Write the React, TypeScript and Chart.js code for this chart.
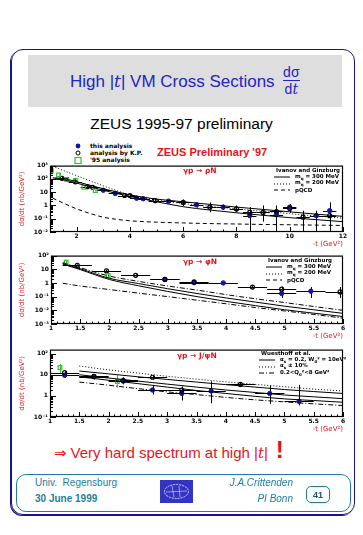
import React, { useEffect, useRef } from 'react';
import { Chart, registerables } from 'chart.js';
Chart.register(...registerables);

// ---------------- γp → ρN ----------------
const rhoXTicks = [2, 4, 6, 8, 10, 12];
const rhoXLabels = ['2', '4', '6', '8', '10', '12'];
const rhoYTicks = [0.01, 0.1, 1, 10, 100, 1000];
const rhoYLabels = ['10⁻²', '10⁻¹', '1', '10', '10²', '10³'];

const rho95T = [1.05, 1.32, 1.63, 1.95, 2.27, 2.7];
const rho95V = [420, 200, 90, 75, 23, 13];
const rho95Lo = [380, 180, 80, 66, 20, 11];
const rho95Hi = [470, 225, 100, 85, 26, 15];

const rhoKPT = [1.45, 1.95, 2.4, 2.6, 3.8, 4.0, 4.95, 6.0, 7.0, 8.0, 8.5, 9.0, 9.5, 10.0, 10.5, 11.5];
const rhoKPV = [110, 60, 26, 23, 5.6, 5.6, 2.3, 1.7, 0.74, 0.55, 0.3, 0.3, 0.35, 0.6, 0.13, 0.17];
const rhoKPLo = [85, 48, 21, 18, 4.5, 4.5, 1.8, 0.9, 0.3, 0.3, 0.01, 0.06, 0.01, 0.28, 0.01, 0.01];
const rhoKPHi = [140, 75, 32, 28, 7, 7, 3, 2.8, 1.7, 1.0, 0.75, 1.0, 1.0, 1.2, 0.4, 0.5];

const rhoThisT = [3.0, 3.45, 4.25, 4.5, 5.45, 6.5, 7.5, 8.5, 9.5, 10.0, 11.0, 11.5];
const rhoThisV = [14, 8, 3.5, 3.2, 2.1, 1.1, 0.74, 0.17, 0.2, 0.74, 0.17, 0.4];
const rhoThisLo = [11, 6.5, 2.7, 2.5, 1.6, 0.7, 0.45, 0.01, 0.01, 0.35, 0.01, 0.06];
const rhoThisHi = [17, 10, 4.5, 4, 2.7, 1.6, 1.2, 0.5, 0.6, 1.3, 0.4, 1.7];

const rhoCurveT = [1.1, 1.5, 2, 2.5, 3, 3.5, 4, 5, 6, 7, 8, 9, 10, 11, 12];
const rhoSolidA = [120, 105, 62, 33, 18, 10.5, 6.2, 3.0, 1.9, 1.2, 0.75, 0.5, 0.33, 0.22, 0.15];
const rhoSolidB = [95, 85, 48, 26, 14, 8, 4.8, 1.9, 0.8, 0.45, 0.28, 0.18, 0.12, 0.085, 0.06];
const rhoDotted = [900, 430, 175, 72, 30, 13, 6.2, 2.5, 1.4, 0.85, 0.55, 0.36, 0.24, 0.16, 0.11];
const rhoDashed = [3.6, 1.5, 0.55, 0.25, 0.13, 0.09, 0.07, 0.055, 0.048, 0.043, 0.04, 0.037, 0.035, 0.033, 0.031];

// ---------------- γp → φN ----------------
const phiXTicks = [1, 1.5, 2, 2.5, 3, 3.5, 4, 4.5, 5, 5.5, 6];
const phiXLabels = ['1', '1.5', '2', '2.5', '3', '3.5', '4', '4.5', '5', '5.5', '6'];
const phiYTicks = [0.001, 0.01, 0.1, 1, 10, 100];
const phiYLabels = ['10⁻³', '10⁻²', '10⁻¹', '1', '10', '10²'];

const phi95T = [1.26, 1.98];
const phi95V = [33, 3.5];
const phi95Lo = [27, 2.8];
const phi95Hi = [40, 4.4];

const phiKPT = [1.45, 1.95, 2.45, 2.95, 3.45, 4.45, 4.95, 5.95];
const phiKPV = [19, 7.6, 3.6, 1.8, 1.2, 0.5, 0.35, 0.22];
const phiKPLo = [16, 6.5, 3.1, 1.5, 0.8, 0.4, 0.2, 0.08];
const phiKPHi = [23, 9, 4.2, 2.2, 1.6, 0.62, 0.55, 0.5];

const phiThisT = [2.95, 3.45, 3.95, 4.95, 5.45];
const phiThisV = [1.8, 1.07, 1.0, 0.17, 0.25];
const phiThisLo = [1.5, 0.7, 0.8, 0.08, 0.08];
const phiThisHi = [2.2, 1.4, 1.3, 0.4, 0.5];

const phiCurveT = [1.2, 1.5, 2, 2.5, 3, 3.5, 4, 4.5, 5, 5.5, 6];
const phiDotted = [30, 13, 3.2, 1.3, 0.6, 0.3, 0.14, 0.07, 0.037, 0.019, 0.01];
const phiSolidA = [26, 11, 2.2, 0.9, 0.38, 0.17, 0.08, 0.04, 0.02, 0.011, 0.006];
const phiSolidB = [24, 9.5, 1.8, 0.62, 0.24, 0.1, 0.045, 0.022, 0.011, 0.0062, 0.0035];
const phiDashed = [0.95, 0.6, 0.33, 0.18, 0.1, 0.055, 0.03, 0.016, 0.009, 0.005, 0.0027];

// ---------------- γp → J/ψN ----------------
const jpsiXTicks = phiXTicks;
const jpsiXLabels = phiXLabels;
const jpsiYTicks = [0.1, 1, 10, 100];
const jpsiYLabels = ['10⁻¹', '1', '10', '10²'];

const jpsi95T = [1.17, 2.15];
const jpsi95V = [22, 4.8];
const jpsi95Lo = [12, 2.4];
const jpsi95Hi = [33, 10];

const jpsiThisT = [1.25, 1.75, 2.25, 2.75, 3.25, 3.75, 4.75, 5.25];
const jpsiThisV = [9.5, 8, 5, 1.9, 1.3, 1.7, 1.3, 0.55];
const jpsiThisLo = [7, 6, 3.5, 1.15, 0.6, 0.45, 0.42, 0.35];
const jpsiThisHi = [12, 10.5, 7, 3.3, 2.4, 4.9, 3.1, 3.3];

const jpsiKPT = [1.25, 1.75, 2.25, 2.75, 3.25, 4.25];
const jpsiKPV = [12.5, 8.5, 5.5, 7.6, 1.9, 3.5];
const jpsiKPLo = [10, 6.5, 3.8, 6, 1.2, 2.6];
const jpsiKPHi = [15, 10.5, 7.5, 9.5, 2.8, 4.5];

const jpsiCurveT = [1.5, 2, 2.5, 3, 3.5, 4, 4.5, 5, 5.5, 6];
const jpsiDotted = [26, 17, 12, 8.5, 6.2, 4.6, 3.5, 2.7, 2.1, 1.7];
const jpsiSolidA = [15, 11, 8, 6, 4.5, 3.4, 2.6, 2.0, 1.6, 1.3];
const jpsiSolidB = [10, 7, 5, 3.6, 2.6, 1.9, 1.45, 1.1, 0.9, 0.74];
const jpsiSolidC = [8, 5.5, 3.8, 2.6, 1.8, 1.3, 0.95, 0.72, 0.6, 0.5];
const jpsiDashDot = [4.5, 3.2, 2.2, 1.55, 1.15, 0.85, 0.65, 0.52, 0.42, 0.35];

// ---------------- styling ----------------
const RED = '#e3151b';
const BLUE_PT = '#1414a8';
const GREEN = '#2fc42f';
const NAVY = '#15158c';
const TEAL = '#1f7e9e';
const TITLE_BLUE = '#2424c8';

const DASH_SOLID: number[] = [];
const DASH_DOT: number[] = [1, 2];
const DASH_DASH: number[] = [4, 3];
const DASH_DASHDOT: number[] = [5, 2, 1, 2];

function curve(t: number[], v: number[], dash: number[]) {
  return {
    data: t.map((x, i) => ({ x, y: v[i] })),
    showLine: true,
    borderColor: '#000',
    borderWidth: 1,
    borderDash: dash,
    pointRadius: 0,
    cubicInterpolationMode: 'monotone',
    fill: false,
  };
}

function points(t: number[], v: number[], lo: number[], hi: number[], dx: number, kind: 'this' | 'kp' | 'old') {
  const style: any =
    kind === 'this'
      ? { pointStyle: 'circle', pointRadius: 2.2, backgroundColor: BLUE_PT, borderColor: BLUE_PT, borderWidth: 1 }
      : kind === 'kp'
      ? { pointStyle: 'circle', pointRadius: 2, backgroundColor: 'rgba(255,255,255,0)', borderColor: '#000', borderWidth: 1.2 }
      : { pointStyle: 'rect', pointRadius: 2.6, backgroundColor: 'rgba(255,255,255,0)', borderColor: GREEN, borderWidth: 1.2 };
  return {
    data: t.map((x, i) => ({ x, y: v[i] })),
    showLine: false,
    errorBars: { lo, hi, dx },
    ...style,
  };
}

const errorBarPlugin = {
  id: 'errorBars',
  beforeDatasetsDraw(chart: any) {
    const { ctx, chartArea: a } = chart;
    const xs = chart.scales.x;
    const ys = chart.scales.y;
    ctx.save();
    ctx.beginPath();
    ctx.rect(a.left, a.top, a.right - a.left, a.bottom - a.top);
    ctx.clip();
    ctx.lineWidth = 1;
    chart.data.datasets.forEach((ds: any) => {
      const eb = ds.errorBars;
      if (!eb) return;
      ctx.strokeStyle = ds.borderColor === GREEN ? GREEN : '#000';
      ds.data.forEach((p: any, i: number) => {
        const px = Math.round(xs.getPixelForValue(p.x)) + 0.5;
        const py = Math.round(ys.getPixelForValue(p.y)) + 0.5;
        ctx.beginPath();
        if (eb.dx) {
          ctx.moveTo(xs.getPixelForValue(p.x - eb.dx), py);
          ctx.lineTo(xs.getPixelForValue(p.x + eb.dx), py);
        }
        ctx.moveTo(px, ys.getPixelForValue(Math.max(eb.lo[i], ys.min)));
        ctx.lineTo(px, ys.getPixelForValue(Math.min(eb.hi[i], ys.max)));
        ctx.stroke();
      });
    });
    ctx.restore();
  },
};

const framePlugin = {
  id: 'frame',
  afterDraw(chart: any, _args: any, opts: any) {
    const { ctx, chartArea: a } = chart;
    const xs = chart.scales.x;
    const ys = chart.scales.y;
    ctx.save();
    ctx.strokeStyle = '#000';
    ctx.lineWidth = 1.2;
    ctx.strokeRect(a.left + 0.5, a.top + 0.5, a.right - a.left - 1, a.bottom - a.top - 1);
    ctx.lineWidth = 1;
    ctx.beginPath();
    const step = opts.xMinorStep || 0.1;
    const n = Math.round((xs.max - xs.min) / step);
    for (let k = 0; k <= n; k++) {
      const v = xs.min + k * step;
      const major = (opts.xMajor || []).some((m: number) => Math.abs(m - v) < 1e-6);
      const px = Math.round(xs.getPixelForValue(v)) + 0.5;
      ctx.moveTo(px, a.bottom);
      ctx.lineTo(px, a.bottom - (major ? 5 : 2.5));
    }
    const d0 = Math.floor(Math.log10(ys.min));
    const d1 = Math.ceil(Math.log10(ys.max));
    for (let d = d0; d <= d1; d++) {
      for (let m = 1; m <= 9; m++) {
        const v = m * Math.pow(10, d);
        if (v < ys.min * 0.999 || v > ys.max * 1.001) continue;
        const py = Math.round(ys.getPixelForValue(v)) + 0.5;
        ctx.moveTo(a.left, py);
        ctx.lineTo(a.left + (m === 1 ? 6 : 3), py);
      }
    }
    ctx.stroke();
    ctx.restore();
  },
};

interface Spec {
  xMin: number; xMax: number; yMin: number; yMax: number;
  xTicks: number[]; xLabels: string[]; xMinorStep: number;
  yTicks: number[]; yLabels: string[];
  yWidth: number;
  datasets: any[];
}

function makeConfig(spec: Spec): any {
  return {
    type: 'scatter',
    data: { datasets: spec.datasets },
    options: {
      responsive: false,
      animation: false,
      devicePixelRatio: 1,
      layout: { padding: { top: 5, right: 8, left: 0, bottom: 0 } },
      plugins: {
        legend: { display: false },
        tooltip: { enabled: false },
        frame: { xMinorStep: spec.xMinorStep, xMajor: spec.xTicks },
      },
      scales: {
        x: {
          type: 'linear',
          min: spec.xMin,
          max: spec.xMax,
          afterBuildTicks: (s: any) => { s.ticks = spec.xTicks.map((v) => ({ value: v })); },
          afterFit: (s: any) => { s.height = 16; },
          ticks: {
            autoSkip: false, maxRotation: 0, minRotation: 0, padding: 1, color: '#000',
            font: { size: 6, weight: 'bold', family: '"DejaVu Sans", sans-serif' },
            callback: (_v: any, i: number) => spec.xLabels[i],
          },
          grid: { display: false, drawTicks: false },
          border: { display: false },
          title: { display: true, text: '-t (GeV²)', align: 'end', color: RED, padding: 0, font: { size: 7, family: '"DejaVu Sans", sans-serif' } },
        },
        y: {
          type: 'logarithmic',
          min: spec.yMin,
          max: spec.yMax,
          afterBuildTicks: (s: any) => { s.ticks = spec.yTicks.map((v) => ({ value: v, major: true })); },
          afterFit: (s: any) => { s.width = spec.yWidth; },
          ticks: {
            autoSkip: false, padding: 2, color: '#000',
            font: { size: 6, weight: 'bold', family: '"DejaVu Sans", sans-serif' },
            callback: (_v: any, i: number) => spec.yLabels[i],
          },
          grid: { display: false, drawTicks: false },
          border: { display: false },
          title: { display: true, text: 'dσ/dt (nb/GeV²)', color: RED, padding: { top: 4, bottom: 0 }, font: { size: 7, family: '"DejaVu Sans", sans-serif' } },
        },
      },
    },
    plugins: [errorBarPlugin, framePlugin],
  };
}

const rhoSpec: Spec = {
  xMin: 1, xMax: 12, yMin: 0.01, yMax: 1000,
  xTicks: rhoXTicks, xLabels: rhoXLabels, xMinorStep: 0.5,
  yTicks: rhoYTicks, yLabels: rhoYLabels, yWidth: 36,
  datasets: [
    curve(rhoCurveT, rhoSolidA, DASH_SOLID),
    curve(rhoCurveT, rhoSolidB, DASH_SOLID),
    curve(rhoCurveT, rhoDotted, DASH_DOT),
    curve(rhoCurveT, rhoDashed, DASH_DASH),
    points(rho95T, rho95V, rho95Lo, rho95Hi, 0, 'old'),
    points(rhoKPT, rhoKPV, rhoKPLo, rhoKPHi, 0.25, 'kp'),
    points(rhoThisT, rhoThisV, rhoThisLo, rhoThisHi, 0.25, 'this'),
  ],
};

const phiSpec: Spec = {
  xMin: 1, xMax: 6, yMin: 0.001, yMax: 100,
  xTicks: phiXTicks, xLabels: phiXLabels, xMinorStep: 0.1,
  yTicks: phiYTicks, yLabels: phiYLabels, yWidth: 37,
  datasets: [
    curve(phiCurveT, phiDotted, DASH_DASHDOT),
    curve(phiCurveT, phiSolidA, DASH_SOLID),
    curve(phiCurveT, phiSolidB, DASH_SOLID),
    curve(phiCurveT, phiDashed, DASH_DASHDOT),
    points(phi95T, phi95V, phi95Lo, phi95Hi, 0, 'old'),
    points(phiKPT, phiKPV, phiKPLo, phiKPHi, 0.25, 'kp'),
    points(phiThisT, phiThisV, phiThisLo, phiThisHi, 0.25, 'this'),
  ],
};

const jpsiSpec: Spec = {
  xMin: 1, xMax: 6, yMin: 0.1, yMax: 155,
  xTicks: jpsiXTicks, xLabels: jpsiXLabels, xMinorStep: 0.1,
  yTicks: jpsiYTicks, yLabels: jpsiYLabels, yWidth: 36,
  datasets: [
    curve(jpsiCurveT, jpsiDotted, DASH_DOT),
    curve(jpsiCurveT, jpsiSolidA, DASH_SOLID),
    curve(jpsiCurveT, jpsiSolidB, DASH_SOLID),
    curve(jpsiCurveT, jpsiSolidC, DASH_SOLID),
    curve(jpsiCurveT, jpsiDashDot, DASH_DASHDOT),
    points(jpsi95T, jpsi95V, jpsi95Lo, jpsi95Hi, 0, 'old'),
    points(jpsiKPT, jpsiKPV, jpsiKPLo, jpsiKPHi, 0.25, 'kp'),
    points(jpsiThisT, jpsiThisV, jpsiThisLo, jpsiThisHi, 0.25, 'this'),
  ],
};

function Plot({ spec, left, top, width, height }: { spec: Spec; left: number; top: number; width: number; height: number }) {
  const ref = useRef<HTMLCanvasElement>(null);
  useEffect(() => {
    const chart = new Chart(ref.current as HTMLCanvasElement, makeConfig(spec));
    return () => chart.destroy();
  }, []);
  return (
    <canvas
      ref={ref}
      width={width}
      height={height}
      style={{ position: 'absolute', left, top, width, height, display: 'block' }}
    />
  );
}

const abs = (left: number, top: number, extra: React.CSSProperties = {}): React.CSSProperties => ({
  position: 'absolute', left, top, whiteSpace: 'nowrap', ...extra,
});

function LineSample({ dash, width = 16 }: { dash: string; width?: number }) {
  return (
    <svg width={width} height={4} style={{ display: 'inline-block', verticalAlign: 'middle' }}>
      <line x1={0} y1={2} x2={width} y2={2} stroke="#000" strokeWidth={1} strokeDasharray={dash || undefined} />
    </svg>
  );
}

const legendFont: React.CSSProperties = { fontFamily: '"DejaVu Sans", sans-serif', fontSize: 5.5, fontWeight: 'bold', color: '#000', lineHeight: '6px' };

function TheoryLegend({ left, top, title, rows }: { left: number; top: number; title: string; rows: { dash: string; label: React.ReactNode }[] }) {
  return (
    <div style={abs(left, top, legendFont)}>
      <div style={{ marginLeft: 2, marginBottom: 1 }}>{title}</div>
      {rows.map((r, i) => (
        <div key={i} style={{ display: 'flex', alignItems: 'center', height: 6.5 }}>
          <LineSample dash={r.dash} />
          <span style={{ marginLeft: 5 }}>{r.label}</span>
        </div>
      ))}
    </div>
  );
}

const reactionStyle: React.CSSProperties = { fontFamily: '"DejaVu Sans", sans-serif', fontSize: 7.5, color: RED, fontWeight: 'bold' };

export default function App() {
  const mq = (v: string) => (
    <span>m<sub style={{ fontSize: 4 }}>q</sub> = {v} MeV</span>
  );
  return (
    <div style={{ position: 'fixed', left: 0, top: 0, width: 363, height: 535, background: '#fff', overflow: 'hidden', fontFamily: '"Liberation Sans", Arial, sans-serif' }}>
      {/* outer border */}
      <div style={{ position: 'absolute', left: 11, top: 49, width: 344, height: 466, border: `1.5px solid ${NAVY}`, borderRadius: 12, boxSizing: 'border-box', boxShadow: `-1px 1px 0 ${NAVY}` }} />
      {/* title box */}
      <div style={{ position: 'absolute', left: 28, top: 55, width: 314, height: 52, background: '#dedede', display: 'flex', alignItems: 'center', justifyContent: 'center', color: TITLE_BLUE, fontSize: 17 }}>
        <span>High |<i style={{ fontFamily: '"DejaVu Serif", serif' }}>t</i>| VM Cross Sections</span>
        <span style={{ display: 'inline-flex', flexDirection: 'column', alignItems: 'center', marginLeft: 8, fontSize: 14, lineHeight: '15px' }}>
          <span>dσ</span>
          <span style={{ borderTop: `1px solid ${TITLE_BLUE}`, padding: '1px 2px 0' }}>d<i style={{ fontFamily: '"DejaVu Serif", serif' }}>t</i></span>
        </span>
      </div>
      <div style={{ position: 'absolute', left: 0, width: 363, top: 115, textAlign: 'center', fontSize: 15.5, color: '#000' }}>ZEUS 1995-97 preliminary</div>

      {/* marker legend */}
      <svg style={{ position: 'absolute', left: 72, top: 141 }} width={14} height={24}>
        <circle cx={6} cy={5} r={2.4} fill={BLUE_PT} />
        <circle cx={6} cy={12} r={2} fill="none" stroke="#000" strokeWidth={1} />
        <rect x={3} y={16.5} width={6} height={6} fill="none" stroke={GREEN} strokeWidth={1.2} />
      </svg>
      <div style={abs(90, 142, { ...legendFont, lineHeight: '7px', fontSize: 6 })}>
        <div>this analysis</div>
        <div>analysis by K.P.</div>
        <div>'95 analysis</div>
      </div>
      <div style={abs(157, 146, { fontSize: 11, color: RED, fontWeight: 'bold' })}>ZEUS Preliminary '97</div>

      {/* plots */}
      <Plot spec={rhoSpec} left={14} top={160} width={337} height={88} />
      <Plot spec={phiSpec} left={14} top={250} width={337} height={90} />
      <Plot spec={jpsiSpec} left={14} top={344} width={337} height={89} />

      {/* reaction labels */}
      <div style={abs(183, 166, reactionStyle)}>γp → ρN</div>
      <div style={abs(183, 257, reactionStyle)}>γp → φN</div>
      <div style={abs(177, 351, reactionStyle)}>γp → J/ψN</div>

      <TheoryLegend left={274} top={167} title="Ivanov and Ginzburg" rows={[
        { dash: '', label: mq('300') },
        { dash: '1,2', label: mq('200') },
        { dash: '4,3', label: 'pQCD' },
      ]} />
      <TheoryLegend left={266} top={257} title="Ivanov and Ginzburg" rows={[
        { dash: '', label: mq('300') },
        { dash: '1,2', label: mq('200') },
        { dash: '4,3', label: 'pQCD' },
      ]} />
      <TheoryLegend left={259} top={350} title="Wuesthoff et al." rows={[
        { dash: '', label: <span>α<sub style={{ fontSize: 4 }}>s</sub> = 0.2, W<sub style={{ fontSize: 4 }}>0</sub>² = 10eV²</span> },
        { dash: '1,2', label: <span>α<sub style={{ fontSize: 4 }}>s</sub> ± 10%</span> },
        { dash: '5,2,1,2', label: <span>0.2&lt;Q<sub style={{ fontSize: 4 }}>0</sub>²&lt;8 GeV²</span> },
      ]} />

      {/* conclusion */}
      <div style={abs(54, 442, { fontSize: 15, color: RED, display: 'flex', alignItems: 'baseline' })}>
        <span style={{ fontFamily: '"DejaVu Sans", sans-serif', marginRight: 4 }}>⇒</span>
        <span>Very hard spectrum at high |<i style={{ fontFamily: '"DejaVu Serif", serif' }}>t</i>|</span>
        <span style={{ fontSize: 24, fontWeight: 'bold', marginLeft: 8, lineHeight: '15px' }}>!</span>
      </div>

      {/* footer */}
      <div style={{ position: 'absolute', left: 16, top: 474, width: 335, height: 38, border: `1px solid ${TEAL}`, borderRadius: 10, boxSizing: 'border-box' }} />
      <div style={abs(35, 477, { fontSize: 10, color: TEAL })}>Univ.&nbsp; Regensburg</div>
      <div style={abs(35, 493, { fontSize: 10, color: TEAL, fontWeight: 'bold' })}>30 June 1999</div>
      <div style={{ position: 'absolute', left: 160, top: 480, width: 33, height: 23, background: '#3434c4' }}>
        <svg width={33} height={23}>
          <ellipse cx={16.5} cy={11.5} rx={12} ry={7} fill="none" stroke="#fff" strokeWidth={0.8} strokeDasharray="2,1" />
          <path d="M6 12 L27 11 M12 6 L14 17 M19 6 L20 17" stroke="#dfe0ff" strokeWidth={0.6} fill="none" />
        </svg>
      </div>
      <div style={{ position: 'absolute', left: 200, width: 93, top: 477, textAlign: 'right', fontSize: 10, color: TEAL, fontStyle: 'italic' }}>J.A.Crittenden</div>
      <div style={{ position: 'absolute', left: 200, width: 93, top: 493, textAlign: 'right', fontSize: 10, color: TEAL, fontStyle: 'italic' }}>PI Bonn</div>
      <div style={{ position: 'absolute', left: 306, top: 486, width: 24, height: 17, border: `1px solid ${TEAL}`, borderRadius: 5, boxSizing: 'border-box', display: 'flex', alignItems: 'center', justifyContent: 'center', fontSize: 9, fontWeight: 'bold', color: '#1a5470' }}>41</div>
    </div>
  );
}
